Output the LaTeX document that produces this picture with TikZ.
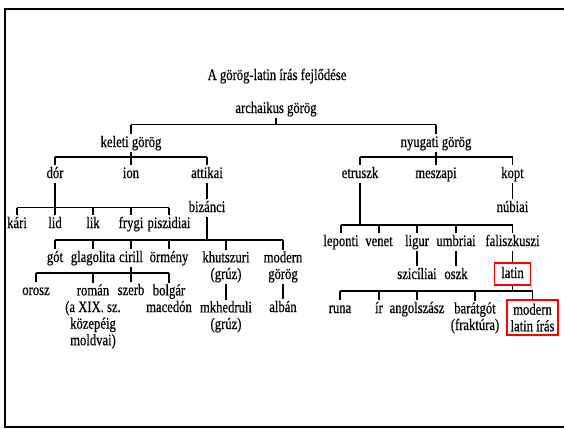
\documentclass[tikz,border=0pt]{standalone}
\usepackage{fontspec}
\setmainfont[FakeStretch=0.79,FakeBold=0.5]{Liberation Serif}
\begin{document}
\begin{tikzpicture}[x=1pt,y=-1pt,
  every node/.style={font=\fontsize{16}{16.6}\selectfont},
  lbl/.style={inner sep=1pt,text height=11.5pt,text depth=3.5pt,anchor=base},
  multi/.style={inner sep=1pt,align=center,anchor=north},
  conn/.style={line width=1.3pt,black},
  hl/.style={draw=red,line width=1.6pt}]
\useasboundingbox (0,0) rectangle (564,428);
\draw[line width=2.2pt] (570,9) -- (5,9) -- (5,427) -- (570,427);
% bus levels
\coordinate (bA) at (0,124.5);
\coordinate (bB) at (0,157);
\coordinate (bC) at (0,207.5);
\coordinate (bD) at (0,240);
\coordinate (bE) at (0,273);
\coordinate (bF) at (0,225);
\coordinate (bG) at (0,291);
% nodes
\node[lbl] (title) at (277,80) {A görög-latin írás fejlődése};
\node[lbl] (arch) at (276,113) {archaikus görög};
\node[lbl] (kel) at (131,147) {keleti görög};
\node[lbl] (nyu) at (436,147) {nyugati görög};
\node[lbl] (dor) at (55,178) {dór};
\node[lbl] (ion) at (131,178) {ion};
\node[lbl] (att) at (207,178) {attikai};
\node[lbl] (etr) at (360,178) {etruszk};
\node[lbl] (mesz) at (436,178) {meszapi};
\node[lbl] (kopt) at (512.5,178) {kopt};
\node[lbl] (biz) at (207,212) {bizánci};
\node[lbl] (nub) at (512.5,212) {núbiai};
\node[lbl] (kari) at (17,228) {kári};
\node[lbl] (lid) at (55,228) {lid};
\node[lbl] (lik) at (93,228) {lik};
\node[lbl] (fry) at (131,228) {frygi};
\node[lbl] (pisz) at (169,228) {piszidiai};
\node[lbl] (got) at (55,262) {gót};
\node[lbl] (glag) at (93,262) {glagolita};
\node[lbl] (cir) at (131,262) {cirill};
\node[lbl] (orm) at (169,262) {örmény};
\node[multi] (khu) at (226,250.1) {khutszuri\\(grúz)};
\node[multi] (modg) at (283,250.1) {modern\\görög};
\node[lbl] (lep) at (341,246) {leponti};
\node[lbl] (ven) at (379,246) {venet};
\node[lbl] (lig) at (417,246) {ligur};
\node[lbl] (umb) at (456,246) {umbriai};
\node[lbl] (fal) at (512.5,246) {faliszkuszi};
\node[lbl] (oro) at (36,295) {orosz};
\node[multi] (rom) at (93,283.1) {román\\(a XIX. sz.\\közepéig\\moldvai)};
\node[lbl] (sze) at (131,295) {szerb};
\node[multi] (bol) at (169,283.1) {bolgár\\macedón};
\node[multi] (mkh) at (226,300.1) {mkhedruli\\(grúz)};
\node[lbl] (alb) at (283,312) {albán};
\node[lbl] (szi) at (417,279) {szicíliai};
\node[lbl] (osz) at (456,279) {oszk};
\node[lbl,hl,anchor=center,minimum width=36pt,minimum height=22pt] (lat) at (512.5,274) {latin};
\node[lbl] (run) at (340,313) {runa};
\node[lbl] (ir) at (379,313) {ír};
\node[lbl] (ang) at (417,313) {angolszász};
\node[multi] (bar) at (475,301.1) {barátgót\\(fraktúra)};
\node[hl,align=center,inner sep=1pt,minimum width=51pt,minimum height=35pt] (mod) at (532.5,317.5) {modern\\latin írás};
% connectors
\draw[conn] (arch.south) -- (arch.south |- bA);
\draw[conn] (kel.north |- bA) -- (nyu.north |- bA);
\foreach \n in {kel,nyu} \draw[conn] (\n.north |- bA) -- (\n.north);
% keleti
\draw[conn] (kel.south) -- (kel.south |- bB);
\draw[conn] (dor.north |- bB) -- (att.north |- bB);
\foreach \n in {dor,ion,att} \draw[conn] (\n.north |- bB) -- (\n.north);
% nyugati
\draw[conn] (nyu.south) -- (nyu.south |- bB);
\draw[conn] (etr.north |- bB) -- (kopt.north |- bB);
\foreach \n in {etr,mesz,kopt} \draw[conn] (\n.north |- bB) -- (\n.north);
\draw[conn] (kopt.south) -- (nub.north);
\draw[conn] (att.south) -- (biz.north);
% dor
\draw[conn] (dor.south) -- (dor.south |- bC);
\draw[conn] (kari.north |- bC) -- (pisz.north |- bC);
\foreach \n in {kari,lid,lik,fry,pisz} \draw[conn] (\n.north |- bC) -- (\n.north);
% bizanci
\draw[conn] (biz.south) -- (biz.south |- bD);
\draw[conn] (got.north |- bD) -- (modg.north |- bD);
\foreach \n in {got,glag,cir,orm,khu,modg} \draw[conn] (\n.north |- bD) -- (\n.north);
% cirill
\draw[conn] (cir.south) -- (cir.south |- bE);
\draw[conn] (oro.north |- bE) -- (bol.north |- bE);
\foreach \n in {oro,rom,sze,bol} \draw[conn] (\n.north |- bE) -- (\n.north);
\draw[conn] (khu.south) -- (mkh.north);
\draw[conn] (modg.south) -- (alb.north);
% etruszk
\draw[conn] (etr.south) -- (etr.south |- bF);
\draw[conn] (lep.north |- bF) -- (fal.north |- bF);
\foreach \n in {lep,ven,lig,umb,fal} \draw[conn] (\n.north |- bF) -- (\n.north);
\draw[conn] (lig.south) -- (szi.north);
\draw[conn] (umb.south) -- (osz.north);
\draw[conn] (fal.south) -- (lat.north);
% latin
\draw[conn] (lat.south) -- (lat.south |- bG);
\draw[conn] (run.north |- bG) -- (mod.north |- bG);
\foreach \n in {run,ir,ang,bar,mod} \draw[conn] (\n.north |- bG) -- (\n.north);
\end{tikzpicture}
\end{document}
